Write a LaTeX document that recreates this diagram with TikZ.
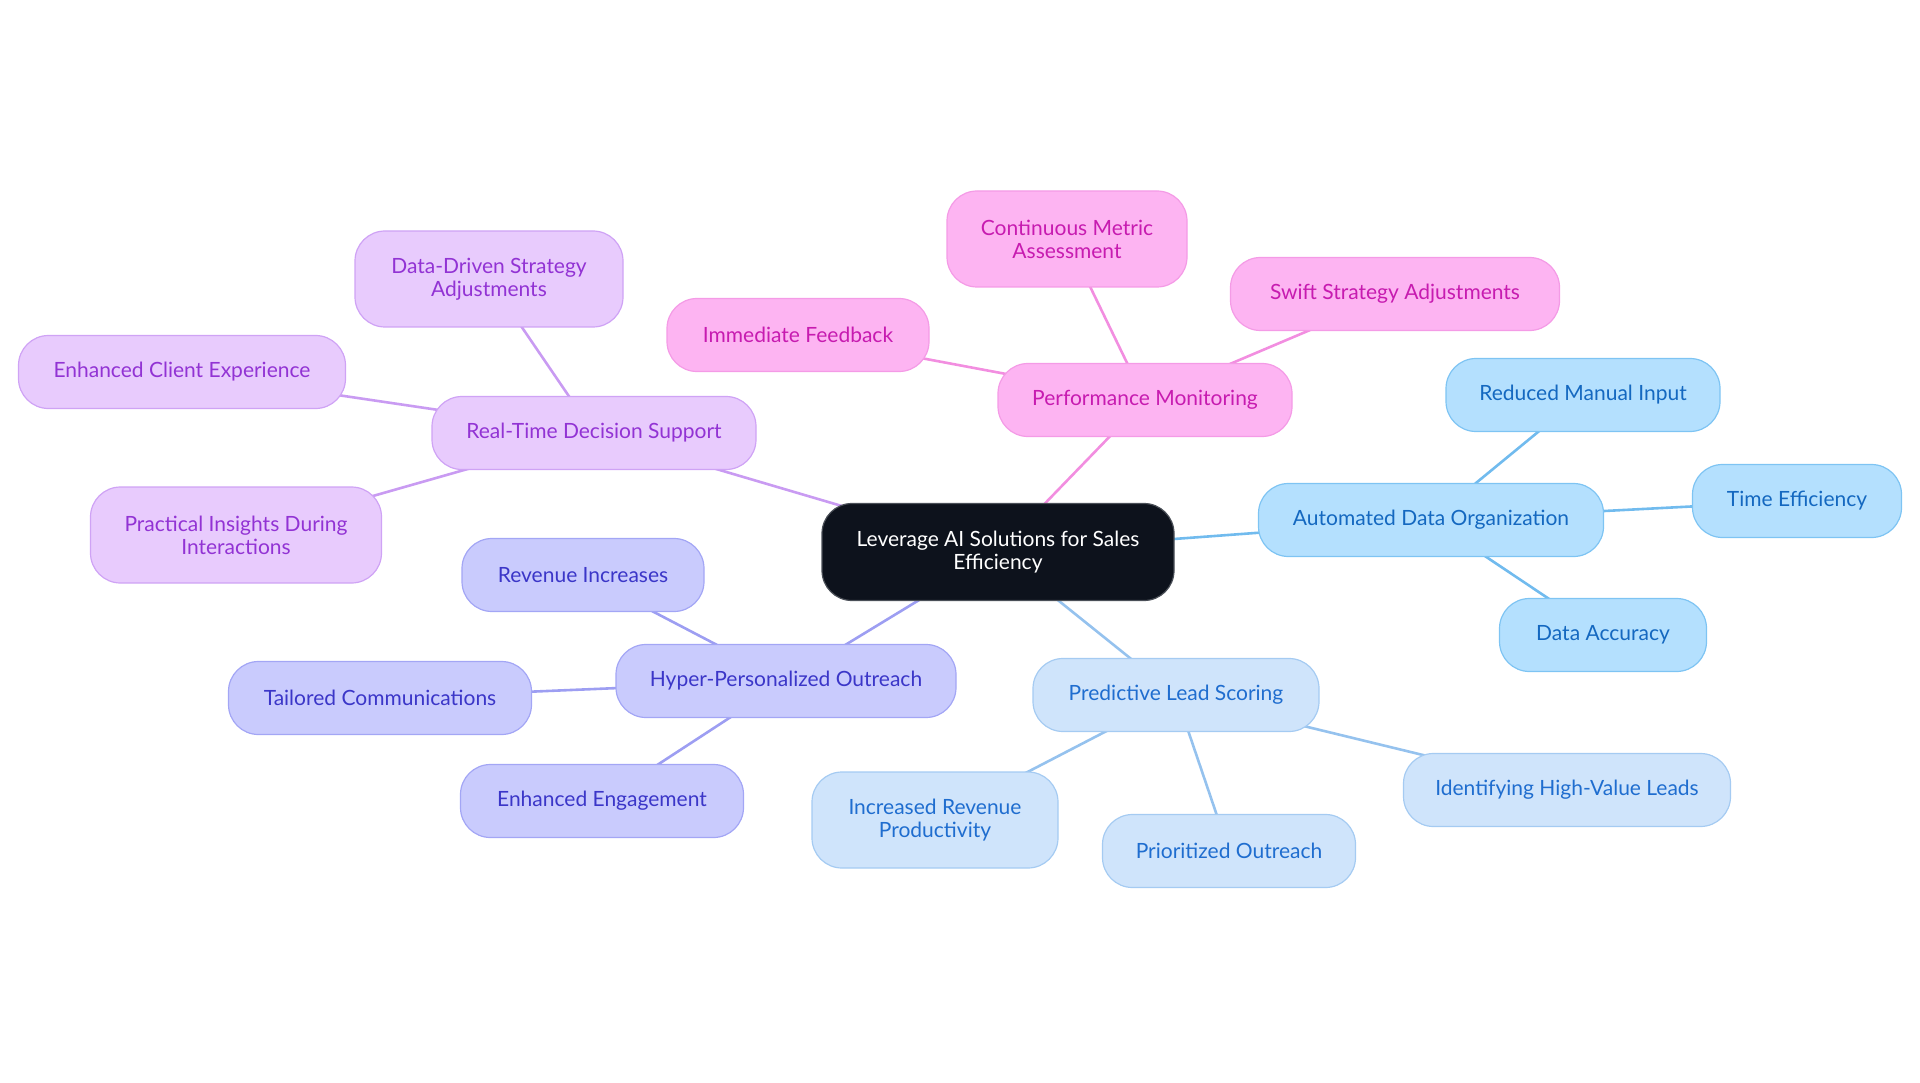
\documentclass[tikz,border=0pt]{standalone}
\usepackage{fontspec}
\setmainfont{Lato}
\usepackage{tikz}
\usetikzlibrary{positioning, backgrounds}

%% ── Palette ──────────────────────────────────────────────────
\definecolor{rootfill}{HTML}{0D121C}
\definecolor{rootline}{HTML}{4A4F57}
\definecolor{pinkfill}{HTML}{FDB4F2}
\definecolor{pinkline}{HTML}{F49BE6}
\definecolor{pinktext}{HTML}{C71BB0}
\definecolor{pinklink}{HTML}{F28EE0}
\definecolor{violetfill}{HTML}{E8CBFD}
\definecolor{violetline}{HTML}{CFA3F5}
\definecolor{violettext}{HTML}{9233D4}
\definecolor{violetlink}{HTML}{C99BF2}
\definecolor{indigofill}{HTML}{C9CBFD}
\definecolor{indigoline}{HTML}{A3A6F5}
\definecolor{indigotext}{HTML}{3B36C8}
\definecolor{indigolink}{HTML}{9D9EF2}
\definecolor{skyfill}{HTML}{B4E0FE}
\definecolor{skyline}{HTML}{7EC4F3}
\definecolor{skytext}{HTML}{1468C0}
\definecolor{skylink}{HTML}{71BBEE}
\definecolor{palefill}{HTML}{CFE4FB}
\definecolor{paleline}{HTML}{A5CBF2}
\definecolor{paletext}{HTML}{1F6DCF}
\definecolor{palelink}{HTML}{95C2EE}

\begin{document}
\begin{tikzpicture}[
    x=1pt, y=-1pt,
    %% ── Box styles ────────────────────────────────────────────
    idea/.style={
        rectangle, rounded corners=30pt,
        minimum height=73pt, inner sep=0pt,
        align=center, line width=1.2pt,
        font=\fontsize{21}{23}\selectfont
    },
    root/.style={idea, fill=rootfill, draw=rootline, text=white, minimum height=97pt},
    pinkbox/.style={idea, fill=pinkfill, draw=pinkline, text=pinktext},
    violetbox/.style={idea, fill=violetfill, draw=violetline, text=violettext},
    indigobox/.style={idea, fill=indigofill, draw=indigoline, text=indigotext},
    skybox/.style={idea, fill=skyfill, draw=skyline, text=skytext},
    palebox/.style={idea, fill=palefill, draw=paleline, text=paletext},
    twoline/.style={minimum height=96pt},
    link/.style={line width=2.6pt}
]

\useasboundingbox (0,0) rectangle (1920,1083);

%% ── Root ───────────────────────────────────────────────────────
\node (root)  [root, minimum width=352pt]           at (998,552)  {Leverage AI Solutions for Sales\\Efficiency};

%% ── Performance Monitoring branch ─────────────────────────────
\node (perf)  [pinkbox, minimum width=294pt]        at (1145,400) {Performance Monitoring};
\node (cma)   [pinkbox, twoline, minimum width=240pt] at (1067,239) {Continuous Metric\\Assessment};
\node (ssa)   [pinkbox, minimum width=329pt]        at (1395,294) {Swift Strategy Adjustments};
\node (imf)   [pinkbox, minimum width=262pt]        at (798,335)  {Immediate Feedback};

%% ── Real-Time Decision Support branch ─────────────────────────
\node (rtds)  [violetbox, minimum width=324pt]      at (594,433)  {Real-Time Decision Support};
\node (dds)   [violetbox, twoline, minimum width=268pt] at (489,279) {Data-Driven Strategy\\Adjustments};
\node (ece)   [violetbox, minimum width=327pt]      at (182,372)  {Enhanced Client Experience};
\node (pid)   [violetbox, twoline, minimum width=291pt] at (236,535) {Practical Insights During\\Interactions};

%% ── Hyper-Personalized Outreach branch ────────────────────────
\node (hpo)   [indigobox, minimum width=340pt]      at (786,681)  {Hyper-Personalized Outreach};
\node (rvi)   [indigobox, minimum width=242pt]      at (583,575)  {Revenue Increases};
\node (tlc)   [indigobox, minimum width=303pt]      at (380,698)  {Tailored Communications};
\node (ene)   [indigobox, minimum width=283pt]      at (602,801)  {Enhanced Engagement};

%% ── Automated Data Organization branch ────────────────────────
\node (ado)   [skybox, minimum width=345pt]         at (1431,520) {Automated Data Organization};
\node (rmi)   [skybox, minimum width=274pt]         at (1583,395) {Reduced Manual Input};
\node (tme)   [skybox, minimum width=209pt]         at (1797,501) {Time Efficiency};
\node (dac)   [skybox, minimum width=207pt]         at (1603,635) {Data Accuracy};

%% ── Predictive Lead Scoring branch ────────────────────────────
\node (pls)   [palebox, minimum width=286pt]        at (1176,695) {Predictive Lead Scoring};
\node (irp)   [palebox, twoline, minimum width=246pt] at (935,820) {Increased Revenue\\Productivity};
\node (pro)   [palebox, minimum width=253pt]        at (1229,851) {Prioritized Outreach};
\node (ihv)   [palebox, minimum width=327pt]        at (1567,790) {Identifying High-Value Leads};

%% ── Links (behind the boxes) ──────────────────────────────────
\begin{scope}[on background layer]
\draw [link, pinklink]   (root.center) -- (perf.center);
\draw [link, pinklink]   (perf.center) -- (cma.center);
\draw [link, pinklink]   (perf.center) -- (ssa.center);
\draw [link, pinklink]   (perf.center) -- (imf.center);
\draw [link, violetlink] (root.center) -- (rtds.center);
\draw [link, violetlink] (rtds.center) -- (dds.center);
\draw [link, violetlink] (rtds.center) -- (ece.center);
\draw [link, violetlink] (rtds.center) -- (pid.center);
\draw [link, indigolink] (root.center) -- (hpo.center);
\draw [link, indigolink] (hpo.center)  -- (rvi.center);
\draw [link, indigolink] (hpo.center)  -- (tlc.center);
\draw [link, indigolink] (hpo.center)  -- (ene.center);
\draw [link, skylink]    (root.center) -- (ado.center);
\draw [link, skylink]    (ado.center)  -- (rmi.center);
\draw [link, skylink]    (ado.center)  -- (tme.center);
\draw [link, skylink]    (ado.center)  -- (dac.center);
\draw [link, palelink]   (root.center) -- (pls.center);
\draw [link, palelink]   (pls.center)  -- (irp.center);
\draw [link, palelink]   (pls.center)  -- (pro.center);
\draw [link, palelink]   (pls.center)  -- (ihv.center);
\end{scope}

\end{tikzpicture}
\end{document}
